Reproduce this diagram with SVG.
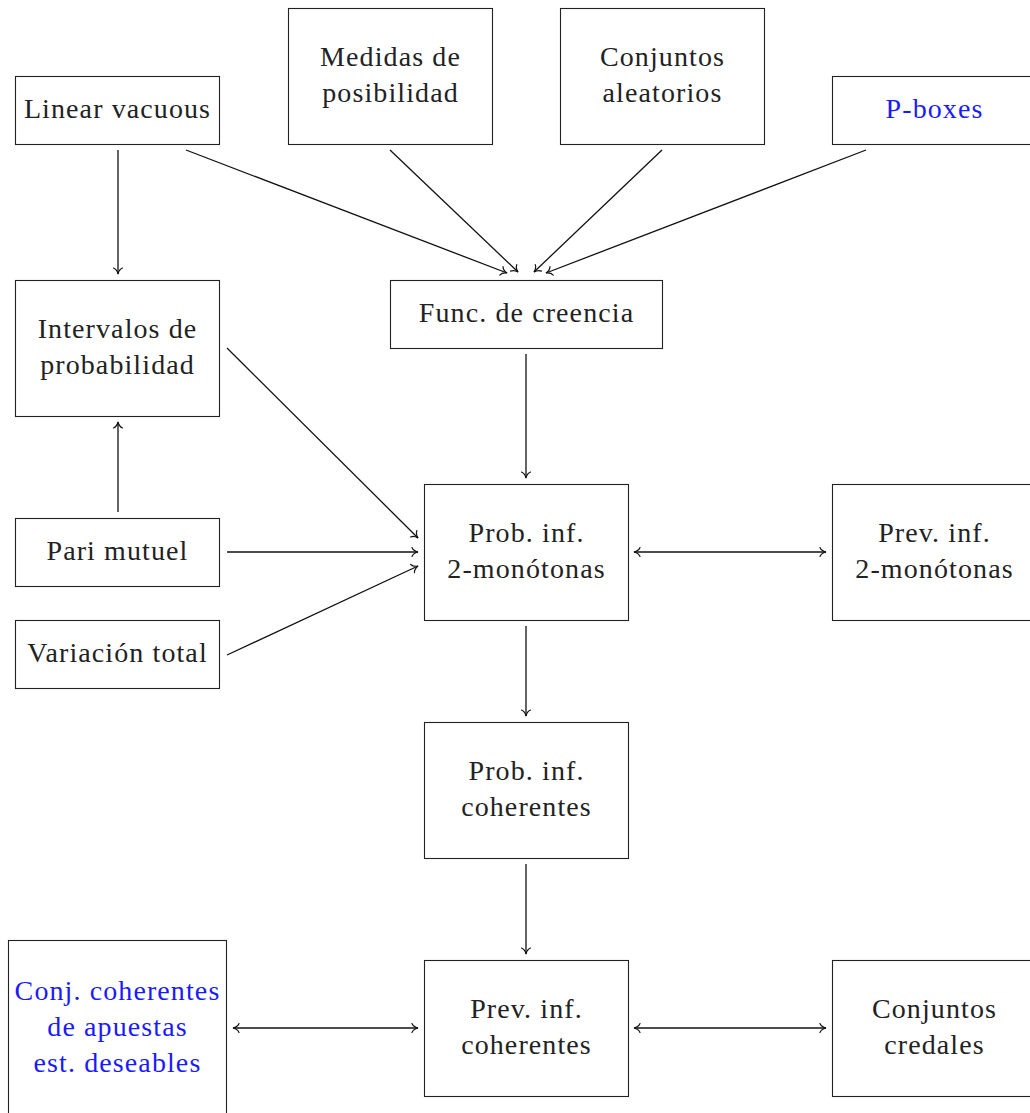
<svg xmlns="http://www.w3.org/2000/svg" width="1030" height="1113" viewBox="0 0 1030 1113">
<defs>
<style>
.box{fill:#fff;stroke:#222;stroke-width:1.1}
.t{font-family:"Liberation Serif","DejaVu Serif",serif;font-size:28px;letter-spacing:1.1px;fill:#222;text-anchor:middle}
.b{fill:#1a1aff}
.c{fill:none;stroke:#111;stroke-width:1.3}
</style>
<marker id="ah" viewBox="-8 -6 10 12" refX="0" refY="0" markerWidth="10" markerHeight="12" markerUnits="userSpaceOnUse" orient="auto-start-reverse">
<path d="M-6,-4.5 C-5,-2 -2,-0.5 0,0 C-2,0.5 -5,2 -6,4.5" fill="none" stroke="#111" stroke-width="1.2" stroke-linecap="round"/>
</marker>
</defs>
<rect width="1030" height="1113" fill="#fff"/>
<g id="connectors">
<line class="c" x1="118" y1="150" x2="118" y2="274" marker-end="url(#ah)"/>
<line class="c" x1="186" y1="150" x2="507" y2="273" marker-end="url(#ah)"/>
<line class="c" x1="390" y1="150" x2="518" y2="272" marker-end="url(#ah)"/>
<line class="c" x1="662" y1="150" x2="534" y2="272" marker-end="url(#ah)"/>
<line class="c" x1="866" y1="150" x2="546" y2="273" marker-end="url(#ah)"/>
<line class="c" x1="526" y1="354" x2="526" y2="478" marker-end="url(#ah)"/>
<line class="c" x1="227" y1="348" x2="418" y2="538" marker-end="url(#ah)"/>
<line class="c" x1="118" y1="512" x2="118" y2="422" marker-end="url(#ah)"/>
<line class="c" x1="227" y1="552" x2="418" y2="552" marker-end="url(#ah)"/>
<line class="c" x1="227" y1="655" x2="418" y2="566" marker-end="url(#ah)"/>
<line class="c" x1="634" y1="552" x2="826" y2="552" marker-start="url(#ah)" marker-end="url(#ah)"/>
<line class="c" x1="526" y1="626" x2="526" y2="716" marker-end="url(#ah)"/>
<line class="c" x1="526" y1="864" x2="526" y2="954" marker-end="url(#ah)"/>
<line class="c" x1="233" y1="1028" x2="418" y2="1028" marker-start="url(#ah)" marker-end="url(#ah)"/>
<line class="c" x1="634" y1="1028" x2="826" y2="1028" marker-start="url(#ah)" marker-end="url(#ah)"/>
</g>
<g id="linear-vacuous"><rect class="box" x="15.5" y="76.5" width="204" height="68"/><text class="t" x="117.5" y="118">Linear vacuous</text></g>
<g id="medidas"><rect class="box" x="288.5" y="8.5" width="204" height="136"/><text class="t" x="390.5" y="66">Medidas de</text><text class="t" x="390.5" y="102">posibilidad</text></g>
<g id="conjuntos-aleatorios"><rect class="box" x="560.5" y="8.5" width="204" height="136"/><text class="t" x="662.5" y="66">Conjuntos</text><text class="t" x="662.5" y="102">aleatorios</text></g>
<g id="p-boxes"><rect class="box" x="832.5" y="76.5" width="204" height="68"/><text class="t b" x="934.5" y="118">P-boxes</text></g>
<g id="intervalos"><rect class="box" x="15.5" y="280.5" width="204" height="136"/><text class="t" x="117.5" y="338">Intervalos de</text><text class="t" x="117.5" y="374">probabilidad</text></g>
<g id="func-creencia"><rect class="box" x="390.5" y="280.5" width="272" height="68"/><text class="t" x="526.5" y="322">Func. de creencia</text></g>
<g id="prob-2mon"><rect class="box" x="424.5" y="484.5" width="204" height="136"/><text class="t" x="526.5" y="542">Prob. inf.</text><text class="t" x="526.5" y="578">2-monótonas</text></g>
<g id="prev-2mon"><rect class="box" x="832.5" y="484.5" width="204" height="136"/><text class="t" x="934.5" y="542">Prev. inf.</text><text class="t" x="934.5" y="578">2-monótonas</text></g>
<g id="pari-mutuel"><rect class="box" x="15.5" y="518.5" width="204" height="68"/><text class="t" x="117.5" y="560">Pari mutuel</text></g>
<g id="variacion-total"><rect class="box" x="15.5" y="620.5" width="204" height="68"/><text class="t" x="117.5" y="662">Variación total</text></g>
<g id="prob-coherentes"><rect class="box" x="424.5" y="722.5" width="204" height="136"/><text class="t" x="526.5" y="780">Prob. inf.</text><text class="t" x="526.5" y="816">coherentes</text></g>
<g id="prev-coherentes"><rect class="box" x="424.5" y="960.5" width="204" height="136"/><text class="t" x="526.5" y="1018">Prev. inf.</text><text class="t" x="526.5" y="1054">coherentes</text></g>
<g id="conjuntos-credales"><rect class="box" x="832.5" y="960.5" width="204" height="136"/><text class="t" x="934.5" y="1018">Conjuntos</text><text class="t" x="934.5" y="1054">credales</text></g>
<g id="conj-apuestas"><rect class="box" x="8.5" y="940.5" width="218" height="178"/><text class="t b" x="117.5" y="1000">Conj. coherentes</text><text class="t b" x="117.5" y="1036">de apuestas</text><text class="t b" x="117.5" y="1072">est. deseables</text></g>
</svg>
